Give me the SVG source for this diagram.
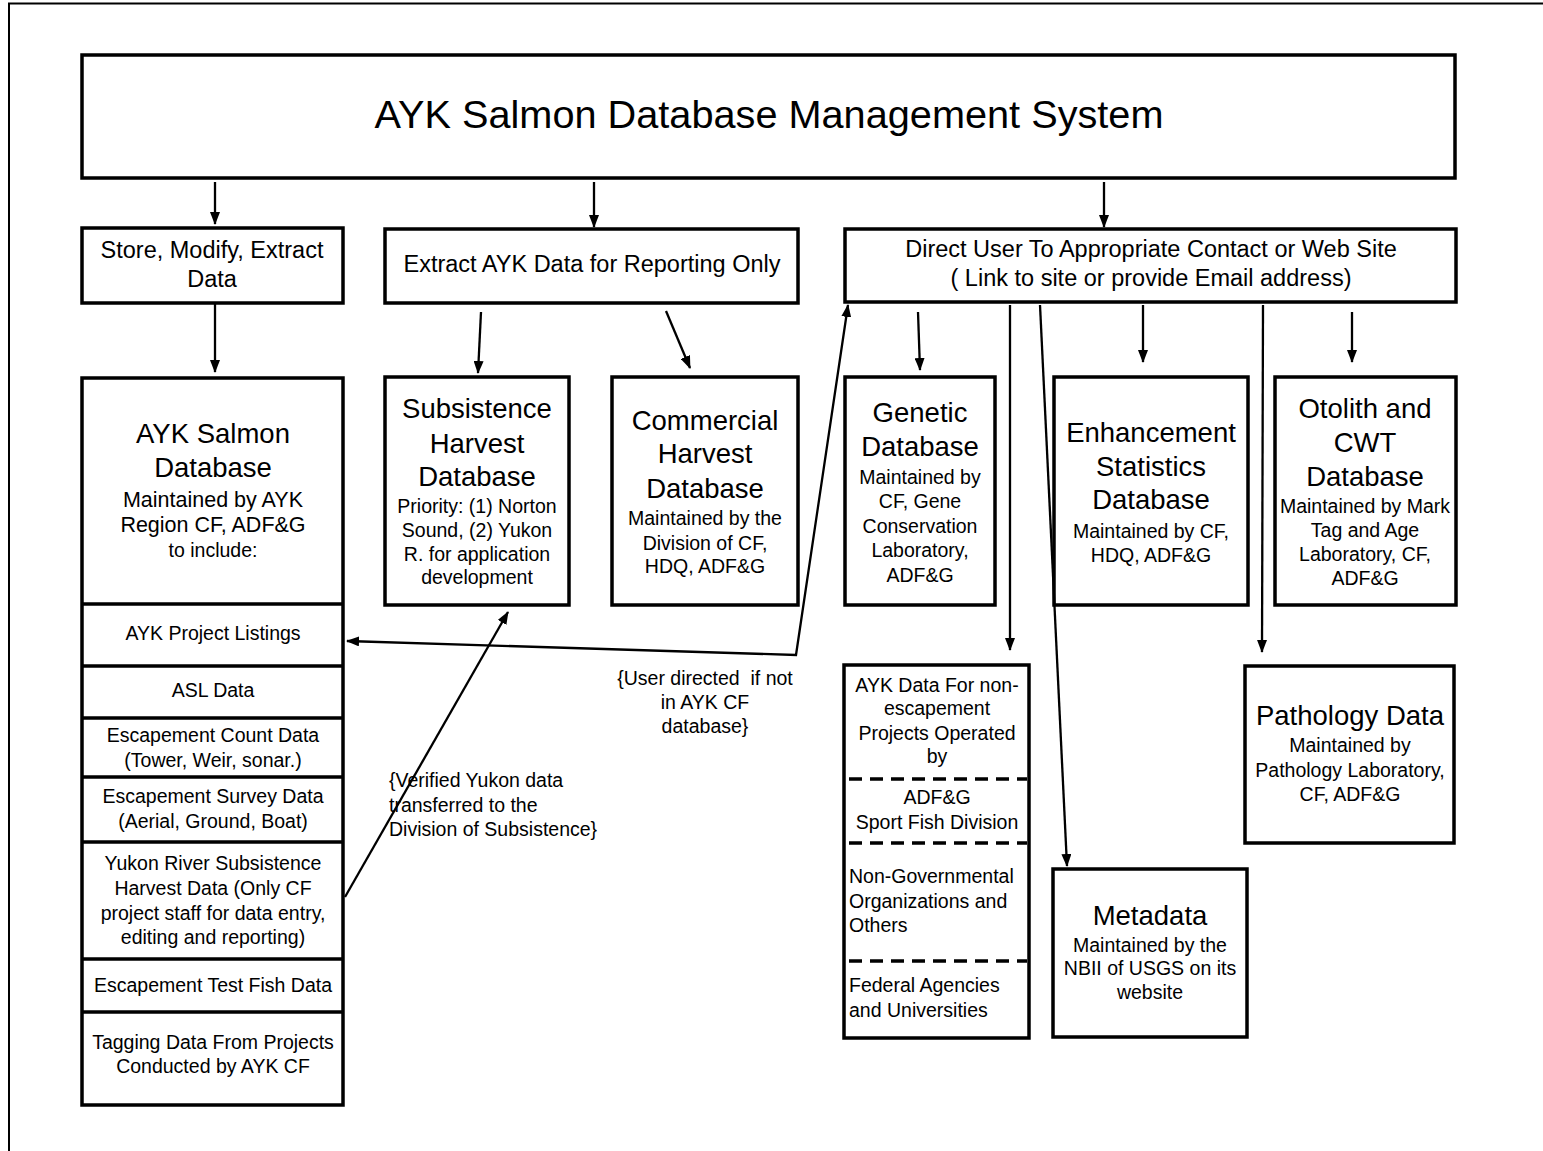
<svg xmlns="http://www.w3.org/2000/svg" width="1543" height="1151" viewBox="0 0 1543 1151">
<defs>
<style>
.box{fill:#fff;stroke:#000;stroke-width:3.5}
.div{stroke:#000;stroke-width:3.5}
.dash{stroke:#000;stroke-width:3.5;stroke-dasharray:13 8}
.con{stroke:#000;stroke-width:2.3;fill:none}
.arr{marker-end:url(#ah)}
text{font-family:"Liberation Sans",Arial,sans-serif;fill:#000}
.t{font-size:39.7px}
.h{font-size:27.5px}
.m{font-size:23.5px}
.s{font-size:19.5px}
.s2{font-size:21.5px}
.c{text-anchor:middle}
.pre{white-space:pre}
</style>
<marker id="ah" viewBox="0 0 13 10" refX="12" refY="5" markerWidth="13" markerHeight="10" markerUnits="userSpaceOnUse" orient="auto-start-reverse">
<path d="M0,0 L13,5 L0,10 z" fill="#000"/>
</marker>
</defs>
<rect width="1543" height="1151" fill="#fff"/>
<g id="frame">
<line x1="8" y1="3.5" x2="1543" y2="3.5" stroke="#000" stroke-width="2"/>
<line x1="9" y1="3" x2="9" y2="1151" stroke="#000" stroke-width="2"/>
</g>

<g id="main">
<rect class="box" x="82" y="55" width="1373" height="123"/>
<text class="t c" x="769" y="128">AYK Salmon Database Management System</text>
</g>

<g id="store">
<rect class="box" x="82" y="228" width="261" height="75"/>
<text class="m c" x="212" y="258">Store, Modify, Extract</text>
<text class="m c" x="212" y="287">Data</text>
</g>

<g id="extract">
<rect class="box" x="385" y="229" width="413" height="74"/>
<text class="m c" x="592" y="272">Extract AYK Data for Reporting Only</text>
</g>

<g id="direct">
<rect class="box" x="845" y="229" width="611" height="73"/>
<text class="m c" x="1151" y="257">Direct User To Appropriate Contact or Web Site</text>
<text class="m c" x="1151" y="286">( Link to site or provide Email address)</text>
</g>

<g id="ayk-db">
<rect class="box" x="82" y="378" width="261" height="727"/>
<line class="div" x1="82" y1="604" x2="343" y2="604"/>
<line class="div" x1="82" y1="666" x2="343" y2="666"/>
<line class="div" x1="82" y1="718" x2="343" y2="718"/>
<line class="div" x1="82" y1="777" x2="343" y2="777"/>
<line class="div" x1="82" y1="842" x2="343" y2="842"/>
<line class="div" x1="82" y1="959" x2="343" y2="959"/>
<line class="div" x1="82" y1="1012" x2="343" y2="1012"/>
<text class="h c" x="213" y="443">AYK Salmon</text>
<text class="h c" x="213" y="477">Database</text>
<text class="s2 c" x="213" y="507">Maintained by AYK</text>
<text class="s2 c" x="213" y="532">Region CF, ADF&amp;G</text>
<text class="s c" x="213" y="557">to include:</text>
<text class="s c" x="213" y="640">AYK Project Listings</text>
<text class="s c" x="213" y="697">ASL Data</text>
<text class="s c" x="213" y="742">Escapement Count Data</text>
<text class="s c" x="213" y="767">(Tower, Weir, sonar.)</text>
<text class="s c" x="213" y="803">Escapement Survey Data</text>
<text class="s c" x="213" y="828">(Aerial, Ground, Boat)</text>
<text class="s c" x="213" y="870">Yukon River Subsistence</text>
<text class="s c" x="213" y="895">Harvest Data (Only CF</text>
<text class="s c" x="213" y="920">project staff for data entry,</text>
<text class="s c" x="213" y="944">editing and reporting)</text>
<text class="s c" x="213" y="992">Escapement Test Fish Data</text>
<text class="s c" x="213" y="1049">Tagging Data From Projects</text>
<text class="s c" x="213" y="1073">Conducted by AYK CF</text>
</g>

<g id="subsistence">
<rect class="box" x="385" y="377" width="184" height="228"/>
<text class="h c" x="477" y="418">Subsistence</text>
<text class="h c" x="477" y="453">Harvest</text>
<text class="h c" x="477" y="486">Database</text>
<text class="s c" x="477" y="513">Priority: (1) Norton</text>
<text class="s c" x="477" y="537">Sound, (2) Yukon</text>
<text class="s c" x="477" y="561">R. for application</text>
<text class="s c" x="477" y="584">development</text>
</g>

<g id="commercial">
<rect class="box" x="612" y="377" width="186" height="228"/>
<text class="h c" x="705" y="430">Commercial</text>
<text class="h c" x="705" y="463">Harvest</text>
<text class="h c" x="705" y="498">Database</text>
<text class="s c" x="705" y="525">Maintained by the</text>
<text class="s c" x="705" y="550">Division of CF,</text>
<text class="s c" x="705" y="573">HDQ, ADF&amp;G</text>
</g>

<g id="genetic">
<rect class="box" x="845" y="377" width="150" height="228"/>
<text class="h c" x="920" y="422">Genetic</text>
<text class="h c" x="920" y="456">Database</text>
<text class="s c" x="920" y="484">Maintained by</text>
<text class="s c" x="920" y="508">CF, Gene</text>
<text class="s c" x="920" y="533">Conservation</text>
<text class="s c" x="920" y="557">Laboratory,</text>
<text class="s c" x="920" y="582">ADF&amp;G</text>
</g>

<g id="enhancement">
<rect class="box" x="1054" y="377" width="194" height="228"/>
<text class="h c" x="1151" y="442">Enhancement</text>
<text class="h c" x="1151" y="476">Statistics</text>
<text class="h c" x="1151" y="509">Database</text>
<text class="s c" x="1151" y="538">Maintained by CF,</text>
<text class="s c" x="1151" y="562">HDQ, ADF&amp;G</text>
</g>

<g id="otolith">
<rect class="box" x="1275" y="377" width="181" height="228"/>
<text class="h c" x="1365" y="418">Otolith and</text>
<text class="h c" x="1365" y="452">CWT</text>
<text class="h c" x="1365" y="486">Database</text>
<text class="s c" x="1365" y="513">Maintained by Mark</text>
<text class="s c" x="1365" y="537">Tag and Age</text>
<text class="s c" x="1365" y="561">Laboratory, CF,</text>
<text class="s c" x="1365" y="585">ADF&amp;G</text>
</g>

<g id="ayk-data">
<rect class="box" x="844" y="665" width="185" height="373"/>
<line class="dash" x1="849" y1="779" x2="1027" y2="779"/>
<line class="dash" x1="849" y1="843" x2="1027" y2="843"/>
<line class="dash" x1="849" y1="961" x2="1027" y2="961"/>
<text class="s c" x="937" y="692">AYK Data For non-</text>
<text class="s c" x="937" y="715">escapement</text>
<text class="s c" x="937" y="740">Projects Operated</text>
<text class="s c" x="937" y="763">by</text>
<text class="s c" x="937" y="804">ADF&amp;G</text>
<text class="s c" x="937" y="829">Sport Fish Division</text>
<text class="s" x="849" y="883">Non-Governmental</text>
<text class="s" x="849" y="908">Organizations and</text>
<text class="s" x="849" y="932">Others</text>
<text class="s" x="849" y="992">Federal Agencies</text>
<text class="s" x="849" y="1017">and Universities</text>
</g>

<g id="metadata">
<rect class="box" x="1053" y="869" width="194" height="168"/>
<text class="h c" x="1150" y="925">Metadata</text>
<text class="s c" x="1150" y="952">Maintained by the</text>
<text class="s c" x="1150" y="975">NBII of USGS on its</text>
<text class="s c" x="1150" y="999">website</text>
</g>

<g id="pathology">
<rect class="box" x="1245" y="666" width="209" height="177"/>
<text class="h c" x="1350" y="725">Pathology Data</text>
<text class="s c" x="1350" y="752">Maintained by</text>
<text class="s c" x="1350" y="777">Pathology Laboratory,</text>
<text class="s c" x="1350" y="801">CF, ADF&amp;G</text>
</g>

<g id="connectors">
<line class="con arr" x1="215" y1="182" x2="215" y2="224"/>
<line class="con arr" x1="594" y1="182" x2="594" y2="227"/>
<line class="con arr" x1="1104" y1="182" x2="1104" y2="227"/>
<line class="con arr" x1="215" y1="303" x2="215" y2="372"/>
<line class="con arr" x1="481" y1="312" x2="478" y2="373"/>
<line class="con arr" x1="666" y1="311" x2="690" y2="368"/>
<line class="con arr" x1="918" y1="312" x2="920" y2="370"/>
<line class="con arr" x1="1010" y1="305" x2="1010" y2="650"/>
<line class="con arr" x1="1040" y1="305" x2="1067" y2="866"/>
<line class="con arr" x1="1143" y1="305" x2="1143" y2="362"/>
<line class="con arr" x1="1263" y1="305" x2="1262" y2="652"/>
<line class="con arr" x1="1352" y1="312" x2="1352" y2="362"/>
<path class="con" d="M848,305 L796,655 L347,641" marker-start="url(#ah)" marker-end="url(#ah)"/>
<line class="con arr" x1="345" y1="897" x2="508" y2="612"/>
</g>

<g id="labels">
<text class="s c pre" x="705" y="685">{User directed  if not</text>
<text class="s c" x="705" y="709">in AYK CF</text>
<text class="s c" x="705" y="733">database}</text>
<text class="s" x="389" y="787">{Verified Yukon data</text>
<text class="s" x="389" y="812">transferred to the</text>
<text class="s" x="389" y="836">Division of Subsistence}</text>
</g>
</svg>
